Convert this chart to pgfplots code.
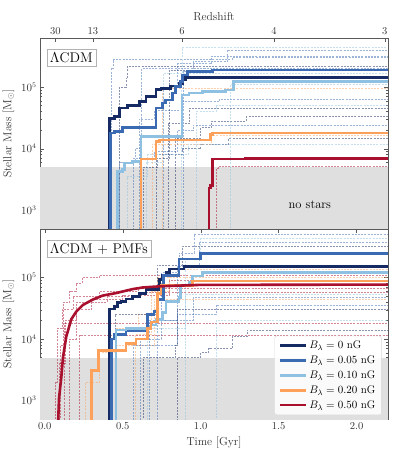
\documentclass[border=0pt]{standalone}
\usepackage{pgfplots}
\pgfplotsset{compat=1.18}
\definecolor{c0}{RGB}{22,42,100}
\definecolor{c1}{RGB}{58,106,178}
\definecolor{c2}{RGB}{142,193,225}
\definecolor{c3}{RGB}{253,160,90}
\definecolor{c4}{RGB}{168,16,46}
\pgfplotsset{
  mydl/.style={const plot, line width=0.6pt, dash pattern=on 2pt off 1.2pt, opacity=0.5, forget plot},
  mytl/.style={const plot, line width=2.6pt},
  myband/.style={draw=none, fill=gray!25, forget plot},
  every axis/.append style={width=347pt, height=190pt, scale only axis, ymode=log, ymin=500, ymax=6.2e5,
    xmin=-0.03, xmax=2.2, ytick={1e3,1e4,1e5},
    tick align=inside, major tick length=4pt, minor tick length=2pt,
    axis line style={gray!70!black}, every tick/.style={gray!70!black},
    tick label style={font=\fontsize{10.5}{12}\selectfont, text=black!80},
    label style={font=\fontsize{11.5}{13}\selectfont, text=black!80},
    ylabel={Stellar Mass [$\mathrm{M}_\odot$]},
    clip=true}
}
\begin{document}
\begin{tikzpicture}
% ---------------- top panel ----------------
\begin{axis}[name=top, at={(0,190pt)}, anchor=south west,
  xtick={0.068,0.308,0.88,1.47,2.18}, xticklabels={30,13,6,4,3},
  xticklabel pos=upper, xlabel={Redshift}]
\addplot[myband] coordinates {(-0.1,5000) (2.3,5000)} \closedcycle;
\addplot[mydl, c1] coordinates {(0.40,100)(0.425,2.0e5)(0.44,2.8e5)(1.2,3.0e5)(2.25,3.0e5)};
\addplot[mydl, c2] coordinates {(0.86,100)(0.876,1.5e5)(0.883,4.4e5)(2.25,4.4e5)};
\addplot[mydl, c1] coordinates {(0.74,100)(0.76,1.0e5)(0.85,2.4e5)(1.07,3.2e5)(2.25,3.2e5)};
\addplot[mydl, c0] coordinates {(0.46,100)(0.479,1.0e5)(0.52,1.4e5)(0.532,2.2e5)(2.25,2.2e5)};
\addplot[mydl, c3] coordinates {(0.74,100)(0.755,9.6e4)(2.25,9.6e4)};
\addplot[mydl, c1] coordinates {(0.59,100)(0.606,3.0e4)(0.70,4.2e4)(0.88,5.8e4)(1.117,6.4e4)(2.25,6.4e4)};
\addplot[mydl, c0] coordinates {(0.82,100)(0.84,1.5e4)(1.0,2.2e4)(1.07,2.8e4)(1.29,3.3e4)(2.25,3.3e4)};
\addplot[mydl, c2] coordinates {(0.95,100)(0.97,4.0e4)(1.1,5.0e4)(2.25,5.0e4)};
\addplot[mydl, c0] coordinates {(0.70,100)(0.713,8e3)(0.88,1.0e4)(1.0,1.2e4)(1.18,1.45e4)(2.25,1.45e4)};
\addplot[mydl, c4] coordinates {(1.09,100)(1.10,4.8e3)(1.11,5.1e3)(2.25,5.1e3)};
\addplot[mydl, c3] coordinates {(0.68,100)(0.69,1.2e4)(1.07,1.65e4)(2.25,1.65e4)};
\addplot[mydl, c1] coordinates {(0.55,100)(0.57,7e3)(0.70,9e3)(0.85,2.0e4)(0.95,2.4e4)(2.25,2.4e4)};
\addplot[mydl, c2] coordinates {(1.18,100)(1.19,1.1e5)(2.25,1.1e5)};
\addplot[mydl, c1] coordinates {(0.87,100)(0.89,1.8e5)(0.95,2.6e5)(1.17,4.0e5)(2.25,4.0e5)};
\addplot[mydl, c0] coordinates {(0.78,100)(0.79,2.6e4)(0.93,4.6e4)(2.25,4.6e4)};
\addplot[mydl, c2] coordinates {(0.64,100)(0.65,6e3)(0.76,1.7e5)(2.25,1.7e5)};
\addplot[mydl, c0] coordinates {(0.62,100)(0.63,5e3)(0.72,7e3)(0.80,1.9e5)(2.25,1.9e5)};
\addplot[mydl, c2] coordinates {(0.52,100)(0.53,3.5e3)(0.66,8e3)(0.92,1.2e4)(2.25,1.2e4)};
\addplot[mydl, c1] coordinates {(0.47,100)(0.48,6e3)(0.58,1.0e4)(0.62,2.0e5)(2.25,2.0e5)};
% thick
\addplot[mytl, c0] coordinates {(0.40,100)(0.415,3.1e4)(0.447,3.3e4)(0.479,4.6e4)(0.532,5.0e4)(0.606,5.9e4)(0.649,7.1e4)(0.713,9.1e4)(0.745,9.6e4)(0.808,1.05e5)(0.862,1.15e5)(0.883,1.32e5)(0.904,1.43e5)(2.25,1.45e5)};
\addplot[mytl, c1] coordinates {(0.41,100)(0.421,1.8e4)(0.447,1.9e4)(0.500,2.2e4)(0.713,4.6e4)(0.755,5.5e4)(0.776,6.2e4)(0.819,8.0e4)(0.840,1.02e5)(0.872,1.23e5)(0.883,1.58e5)(0.915,1.79e5)(1.074,1.9e5)(2.25,1.9e5)};
\addplot[mytl, c2] coordinates {(0.46,100)(0.468,4.3e3)(0.500,4.6e3)(0.510,5.9e3)(0.564,6.2e3)(0.617,1.58e4)(0.880,7.5e4)(0.925,8.0e4)(1.010,8.5e4)(1.159,9.0e4)(1.212,1.23e5)(2.25,1.23e5)};
\addplot[mytl, c3] coordinates {(0.61,100)(0.617,6.8e3)(0.713,1.32e4)(0.734,1.38e4)(1.064,1.7e4)(1.074,1.8e4)(2.25,1.8e4)};
\addplot[mytl, c4] coordinates {(1.05,100)(1.053,2.3e3)(1.064,2.5e3)(1.074,6.8e3)(1.287,7.0e3)(2.25,7.0e3)};
\node[draw=gray!60, fill=white, inner sep=3pt, anchor=north west, font=\fontsize{14}{16}\selectfont] at (rel axis cs:0.019,0.942) {$\Lambda$CDM};
\node[font=\fontsize{12.5}{14}\selectfont] at (axis cs:1.70,1.23e3) {no stars};
\end{axis}
% ---------------- bottom panel ----------------
\begin{axis}[name=bot, at={(0,0)}, anchor=south west,
  xtick={0,0.5,1,1.5,2}, xticklabels={0.0,0.5,1.0,1.5,2.0}, xlabel={Time [Gyr]},
  legend cell align=left,
  legend image code/.code={\draw[#1] (0pt,0pt) -- (26pt,0pt);},
  legend style={at={(rel axis cs:0.982,0.022)}, anchor=south east, font=\fontsize{11}{13}\selectfont,
    fill=white, fill opacity=0.85, text opacity=1, draw=gray!30, rounded corners=2pt,
    row sep=1.6pt, inner xsep=4pt, inner ysep=3pt}]
\addplot[myband] coordinates {(-0.1,5000) (2.3,5000)} \closedcycle;
\addplot[mydl, c4] coordinates {(0.05,300)(0.065,2e3)(0.08,1.5e4)(0.11,3e4)(0.18,5.0e4)(0.35,6.0e4)(0.6,6.6e4)(2.25,6.6e4)};
\addplot[mydl, c4] coordinates {(0.07,300)(0.09,4e3)(0.13,2e4)(0.2,4e4)(0.4,5e4)(0.6,5.8e4)(2.25,5.8e4)};
\addplot[mydl, c4] coordinates {(0.09,300)(0.10,8e3)(0.12,4e4)(0.16,6e4)(0.20,8e4)(0.24,1.0e5)(0.35,1.1e5)(2.25,1.1e5)};
\addplot[mydl, c4] coordinates {(0.11,300)(0.128,1.8e4)(2.25,1.8e4)};
\addplot[mydl, c4] coordinates {(0.20,300)(0.223,1.15e4)(2.25,1.15e4)};
\addplot[mydl, c4] coordinates {(0.14,300)(0.16,1e4)(0.2,3e4)(0.3,4.5e4)(0.5,5.2e4)(0.8,9e4)(2.25,9e4)};
\addplot[mydl, c3] coordinates {(0.24,300)(0.26,2e3)(0.35,6e3)(0.45,1.5e4)(0.6,2.5e4)(0.7,4.5e4)(2.25,4.5e4)};
\addplot[mydl, c3] coordinates {(0.44,300)(0.46,8e3)(0.7,3e4)(0.72,1.0e5)(2.25,1.0e5)};
\addplot[mydl, c1] coordinates {(0.59,300)(0.61,1e4)(0.75,1.2e5)(0.86,2.5e5)(0.96,5.1e5)(2.25,5.1e5)};
\addplot[mydl, c1] coordinates {(0.65,300)(0.67,2e4)(0.85,1.5e5)(0.99,3.8e5)(2.25,3.8e5)};
\addplot[mydl, c0] coordinates {(0.43,300)(0.45,2.5e4)(0.72,1.6e5)(0.88,3.2e5)(2.25,3.2e5)};
\addplot[mydl, c2] coordinates {(0.88,300)(0.90,2e5)(1.0,4.3e5)(2.25,4.3e5)};
\addplot[mydl, c0] coordinates {(0.80,300)(0.85,5e3)(1.0,6e3)(1.05,7e3)(1.2,1.1e4)(1.3,1.4e4)(2.25,1.4e4)};
\addplot[mydl, c1] coordinates {(0.70,300)(0.72,2e4)(0.95,4.7e4)(2.25,4.7e4)};
\addplot[mydl, c2] coordinates {(0.64,300)(0.66,1.5e4)(0.9,5.3e4)(2.25,5.3e4)};
\addplot[mydl, c1] coordinates {(0.55,300)(0.57,8e3)(0.85,2.5e4)(1.1,3.6e4)(2.25,3.6e4)};
\addplot[mydl, c0] coordinates {(0.62,300)(0.63,5e3)(0.84,8e3)(0.85,3e4)(2.25,3e4)};
\addplot[mydl, c3] coordinates {(0.56,300)(0.58,1.2e4)(0.68,6e4)(0.8,1.35e5)(2.25,1.35e5)};
\addplot[mydl, c2] coordinates {(1.09,300)(1.10,2.0e4)(2.25,2.0e4)};
% thick
\addplot[mytl, c0] coordinates {(0.40,100)(0.415,3.1e4)(0.447,3.4e4)(0.468,3.9e4)(0.489,4.1e4)(0.521,4.5e4)(0.564,4.9e4)(0.606,5.5e4)(0.649,6.4e4)(0.734,9.4e4)(0.755,1.07e5)(0.777,1.2e5)(0.798,1.37e5)(0.894,1.52e5)(2.25,1.52e5)};
\addlegendentry{$B_\lambda = 0$ nG}
\addplot[mytl, c1] coordinates {(0.41,100)(0.426,1.0e4)(0.447,1.2e4)(0.52,1.35e4)(0.66,2.5e4)(0.70,2.8e4)(0.72,4.4e4)(0.76,1.07e5)(0.86,2.0e5)(1.0,2.48e5)(2.25,2.48e5)};
\addlegendentry{$B_\lambda = 0.05$ nG}
\addplot[mytl, c2] coordinates {(0.44,100)(0.457,1.4e4)(0.521,1.5e4)(0.681,1.7e4)(0.713,2.1e4)(0.755,2.7e4)(0.777,4.1e4)(0.862,4.7e4)(0.872,7.3e4)(0.926,8.3e4)(0.947,1.06e5)(1.01,1.2e5)(2.25,1.2e5)};
\addlegendentry{$B_\lambda = 0.10$ nG}
\addplot[mytl, c3] coordinates {(0.28,100)(0.30,3.1e3)(0.345,6.6e3)(0.521,8.5e3)(0.585,1.0e4)(0.66,1.5e4)(0.681,1.9e4)(0.723,5.5e4)(0.745,7.5e4)(0.946,8.8e4)(2.25,8.8e4)};
\addlegendentry{$B_\lambda = 0.20$ nG}
\addplot[c4, line width=2.6pt, sharp plot] coordinates {(0.083,300)(0.0915,1.1e3)(0.106,2.4e3)(0.117,5.1e3)(0.138,1.1e4)(0.170,2.1e4)(0.202,2.8e4)(0.245,3.6e4)(0.309,4.4e4)(0.372,5.1e4)(0.457,5.6e4)(0.564,6.5e4)(0.628,6.9e4)(0.734,7.2e4)(0.989,7.6e4)(2.25,7.7e4)};
\addlegendentry{$B_\lambda = 0.50$ nG}
\node[draw=gray!60, fill=white, inner sep=3pt, anchor=north west, font=\fontsize{14}{16}\selectfont] at (rel axis cs:0.019,0.939) {$\Lambda$CDM + PMFs};
\end{axis}
\pgfresetboundingbox
\path (-40pt,-36.7pt) rectangle (359pt,418.3pt);
\end{tikzpicture}
\end{document}
